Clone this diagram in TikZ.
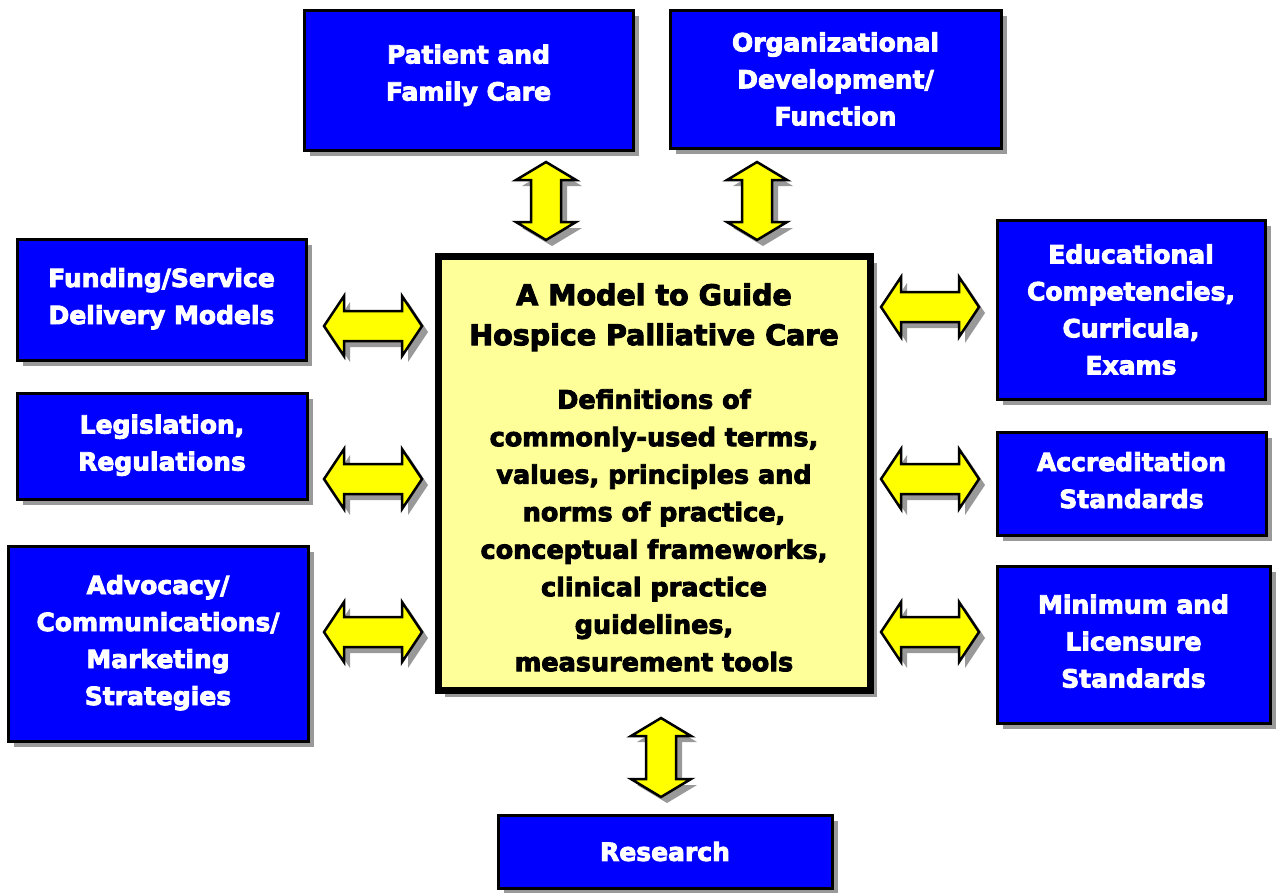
\documentclass[tikz,border=0pt]{standalone}
\usepackage{fontspec}
\setmainfont{DejaVu Sans}
\newfontface\heavyfont{DejaVu Sans Bold}[FakeBold=3.5]
\usetikzlibrary{shadows}
\definecolor{boxblue}{RGB}{0,0,255}
\definecolor{paleyellow}{RGB}{255,255,153}
\definecolor{arrowyellow}{RGB}{255,255,0}
\definecolor{shadowgray}{RGB}{153,153,153}
\tikzset{
  bluebox/.style={draw=black, line width=3pt, fill=boxblue, text=white,
    font=\fontsize{25}{37}\heavyfont, align=center,
    inner sep=0pt,
    drop shadow={shadow xshift=6pt, shadow yshift=-6pt, fill=shadowgray, opacity=1}},
  centerbox/.style={draw=black, line width=7pt, fill=paleyellow,
    inner sep=0pt,
    drop shadow={shadow xshift=7pt, shadow yshift=-7pt, fill=shadowgray, opacity=1}},
  arrowfill/.style={fill=arrowyellow, draw=black, line width=2.5pt, line join=miter},
  arrowshadow/.style={fill=shadowgray}
}
% horizontal double block arrow: x1, x2, cy
\newcommand\hblockarrow[3]{%
  \foreach \sh/\st in {6/arrowshadow,0/arrowfill}{%
    \path[\st, shift={(\sh,\sh)}]
      (#1,#3) -- ++(20,-30) -- ++(0,15) -- ({#2-20},{#3-15}) -- ++(0,-15)
      -- (#2,#3) -- ({#2-20},{#3+30}) -- ++(0,-15) -- ({#1+20},{#3+15})
      -- ++(0,15) -- cycle;
  }%
}
% vertical double block arrow: cx, y1, y2
\newcommand\vblockarrow[3]{%
  \foreach \sh/\st in {6/arrowshadow,0/arrowfill}{%
    \path[\st, shift={(\sh,\sh)}]
      (#1,#2) -- ++(30,18) -- ++(-15,0) -- ({#1+15},{#3-18}) -- ++(15,0)
      -- (#1,#3) -- ({#1-30},{#3-18}) -- ++(15,0) -- ({#1-15},{#2+18})
      -- ++(-15,0) -- cycle;
  }%
}
\begin{document}
\begin{tikzpicture}[x=1pt,y=-1pt]
\useasboundingbox (0,0) rectangle (1277,892);

% block arrows
\vblockarrow{546}{162}{240}
\vblockarrow{757}{162}{240}
\vblockarrow{661}{718}{797}
\hblockarrow{324}{422}{326}
\hblockarrow{324}{422}{479}
\hblockarrow{324}{422}{632}
\hblockarrow{881}{979}{307}
\hblockarrow{881}{979}{479}
\hblockarrow{881}{979}{632}

% blue boxes
\node[bluebox, minimum width=329pt, minimum height=140pt] (patient) at (468.5,80)
  {Patient and\\Family Care\\[-22pt]};
\node[bluebox, minimum width=331pt, minimum height=138pt] (org) at (835.5,79)
  {Organizational\\Development/\\Function};
\node[bluebox, minimum width=289pt, minimum height=121pt] (funding) at (161.5,299.5)
  {Funding/Service\\Delivery Models\\[-30pt]};
\node[bluebox, minimum width=290pt, minimum height=106pt] (legis) at (162,446)
  {Legislation,\\Regulations\\[-30pt]};
\node[bluebox, minimum width=300pt, minimum height=195pt] (advocacy) at (158,643.5)
  {Advocacy/\\Communications/\\Marketing\\Strategies\\[-30pt]};
\node[bluebox, minimum width=268pt, minimum height=179pt] (educ) at (1131,309.5)
  {Educational\\Competencies,\\Curricula,\\Exams};
\node[bluebox, minimum width=269pt, minimum height=103pt] (accred) at (1131.5,483.5)
  {Accreditation\\Standards\\[-30pt]};
\node[bluebox, minimum width=273pt, minimum height=157pt] (minimum) at (1133.5,644.5)
  {Minimum and\\Licensure\\Standards\\[-30pt]};
\node[bluebox, minimum width=334pt, minimum height=73pt] (research) at (665,851.5)
  {Research};

% central box
\node[centerbox, minimum width=432pt, minimum height=434pt] (model) at (654,473) {};
\node[text=black, inner sep=0pt] (modeltext) at (654,477.5)
  {\begin{minipage}{425pt}\centering\heavyfont
   \fontsize{28.5}{40}\selectfont A Model to Guide\\
   Hospice Palliative Care\par
   \vspace{26pt}
   \fontsize{25.5}{37.5}\selectfont Definitions of\\
   commonly-used terms,\\
   values, principles and\\
   norms of practice,\\
   conceptual frameworks,\\
   clinical practice\\
   guidelines,\\
   measurement tools\par
   \end{minipage}};
\end{tikzpicture}
\end{document}
